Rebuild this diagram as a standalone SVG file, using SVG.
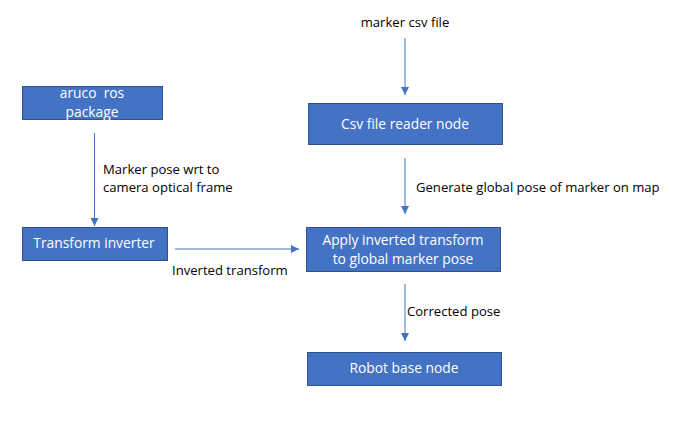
<svg xmlns="http://www.w3.org/2000/svg" width="685" height="429" viewBox="0 0 685 429">
<style>
.box{fill:#4472C4;stroke:#2F528F;stroke-width:1}
.nt{font-family:"Open Sans","Liberation Sans",Arial,sans-serif;font-size:13.8px;fill:#FFFFFF;text-anchor:middle;white-space:pre}
.lb{font-family:"Open Sans","Liberation Sans",Arial,sans-serif;font-size:13.1px;fill:#000000}
.ln{stroke:#4472C4;stroke-width:1;fill:none;marker-end:url(#ah)}
</style>
<defs>
<marker id="ah" markerWidth="10" markerHeight="10" refX="9" refY="5" orient="auto" markerUnits="userSpaceOnUse">
<path d="M1,1 L9,5 L1,9 Z" fill="#4472C4"/>
</marker>
</defs>
<rect width="685" height="429" fill="#FFFFFF"/>
<g id="connectors">
<line class="ln" x1="405" y1="38" x2="405" y2="95"/>
<line class="ln" x1="94.5" y1="133" x2="94.5" y2="226"/>
<line class="ln" x1="405" y1="158" x2="405" y2="214"/>
<line class="ln" x1="175" y1="249" x2="299" y2="249"/>
<line class="ln" x1="405" y1="284" x2="405" y2="341"/>
<text class="lb" x="405" y="27" text-anchor="middle">marker csv file</text>
<text class="lb" x="103" y="174">Marker pose wrt to</text>
<text class="lb" x="103" y="192">camera optical frame</text>
<text class="lb" x="416" y="192">Generate global pose of marker on map</text>
<text class="lb" x="172" y="275">Inverted transform</text>
<text class="lb" x="407" y="316">Corrected pose</text>
</g>
<g id="aruco">
<rect class="box" x="22.5" y="86.5" width="140" height="33"/>
<text class="nt" x="92" y="98">aruco  ros</text>
<text class="nt" x="92" y="117">package</text>
</g>
<g id="inverter">
<rect class="box" x="22.5" y="227.5" width="145" height="33"/>
<text class="nt" x="94" y="248">Transform inverter</text>
</g>
<g id="csvreader">
<rect class="box" x="308.5" y="103.5" width="194" height="41"/>
<text class="nt" x="405" y="129">Csv file reader node</text>
</g>
<g id="apply">
<rect class="box" x="306.5" y="227.5" width="194" height="44"/>
<text class="nt" x="403" y="245">Apply inverted transform</text>
<text class="nt" x="403" y="264">to global marker pose</text>
</g>
<g id="robot">
<rect class="box" x="307.5" y="352.5" width="194" height="33"/>
<text class="nt" x="404" y="373">Robot base node</text>
</g>
</svg>
